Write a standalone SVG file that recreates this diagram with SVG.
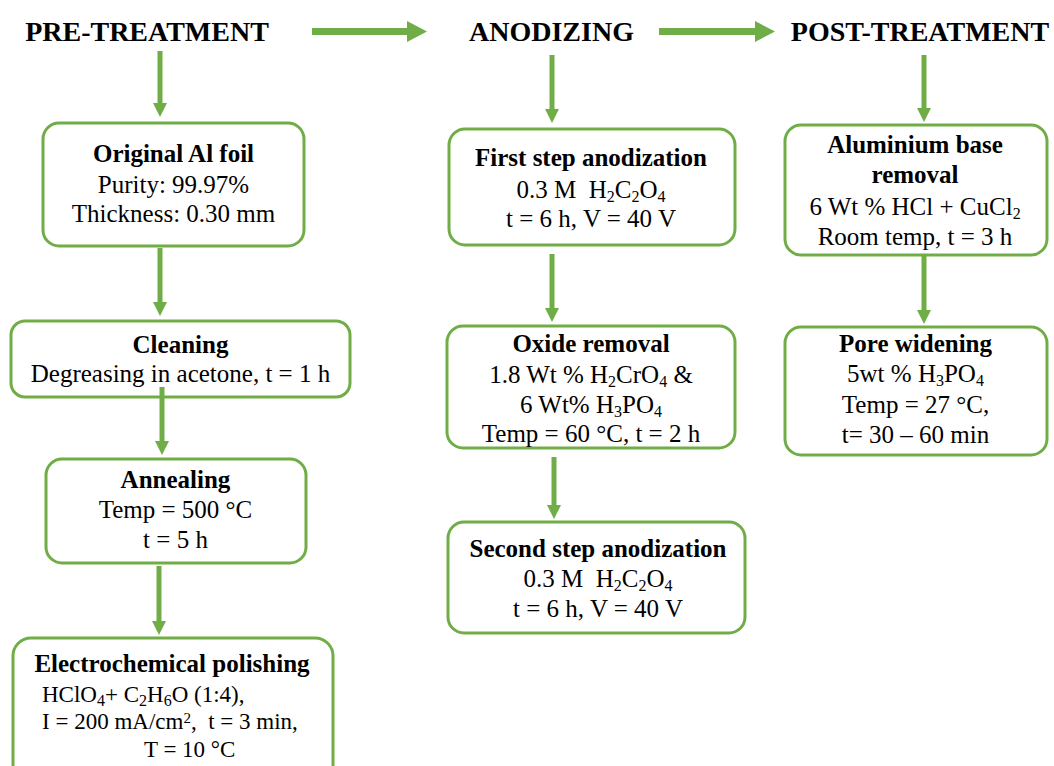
<svg xmlns="http://www.w3.org/2000/svg" width="1054" height="766" viewBox="0 0 1054 766">
<style>
.box{fill:#fff;stroke:#70AD47;stroke-width:3}
.t{font-family:"Liberation Serif","Times New Roman",serif;font-size:25px;fill:#000;text-anchor:middle}
.b{font-weight:bold}
.h{font-family:"Liberation Serif","Times New Roman",serif;font-size:28px;font-weight:bold;fill:#000;text-anchor:middle}
.s{font-size:16px;baseline-shift:-25%}
.p{font-size:15px;baseline-shift:40%}
.v{stroke:#70AD47;stroke-width:5;fill:none}
.hz{stroke:#70AD47;stroke-width:7;fill:none}
.st{text-anchor:start;font-size:23px}
</style>
<defs>
<marker id="av" markerUnits="userSpaceOnUse" markerWidth="14" markerHeight="14" refX="0" refY="7" orient="auto"><path d="M0,0 L14,7 L0,14 z" fill="#70AD47"/></marker>
<marker id="ah" markerUnits="userSpaceOnUse" markerWidth="20" markerHeight="21" refX="0" refY="10.5" orient="auto"><path d="M0,0 L20,10.5 L0,21 z" fill="#70AD47"/></marker>
</defs>
<rect width="1054" height="766" fill="#fff"/>
<g id="headers">
<text class="h" x="147" y="41">PRE-TREATMENT</text>
<text class="h" x="551.5" y="41">ANODIZING</text>
<text class="h" x="920" y="41">POST-TREATMENT</text>
</g>
<g id="connectors">
<line class="hz" x1="312" y1="31.5" x2="407" y2="31.5" marker-end="url(#ah)"/>
<line class="hz" x1="659" y1="31.5" x2="755" y2="31.5" marker-end="url(#ah)"/>
<line class="v" x1="160" y1="51" x2="160" y2="103" marker-end="url(#av)"/>
<line class="v" x1="160" y1="248" x2="160" y2="302" marker-end="url(#av)"/>
<line class="v" x1="159" y1="566" x2="159" y2="621" marker-end="url(#av)"/>
<line class="v" x1="552" y1="55" x2="552" y2="109" marker-end="url(#av)"/>
<line class="v" x1="552" y1="254" x2="552" y2="308" marker-end="url(#av)"/>
<line class="v" x1="554" y1="457" x2="554" y2="505" marker-end="url(#av)"/>
<line class="v" x1="924" y1="55" x2="924" y2="108" marker-end="url(#av)"/>
<line class="v" x1="924" y1="255" x2="924" y2="310" marker-end="url(#av)"/>
</g>
<g id="original-al-foil">
<rect class="box" x="43" y="123" width="261" height="123" rx="16"/>
<text class="t b" x="173.5" y="162">Original Al foil</text>
<text class="t" x="173.5" y="193">Purity: 99.97%</text>
<text class="t" x="173.5" y="222">Thickness: 0.30 mm</text>
</g>
<g id="cleaning">
<rect class="box" x="11" y="321" width="339" height="76" rx="14"/>
<text class="t b" x="180.5" y="353">Cleaning</text>
<text class="t" x="180.5" y="382">Degreasing in acetone, t = 1 h</text>
</g>
<g id="connector-cleaning-annealing">
<line class="v" x1="162" y1="387" x2="162" y2="441" marker-end="url(#av)"/>
</g>
<g id="annealing">
<rect class="box" x="46" y="459" width="260" height="104" rx="16"/>
<text class="t b" x="175.5" y="488">Annealing</text>
<text class="t" x="175.5" y="518">Temp = 500 °C</text>
<text class="t" x="175.5" y="548">t = 5 h</text>
</g>
<g id="electrochemical-polishing">
<rect class="box" x="13" y="638" width="320" height="150" rx="18"/>
<text class="t b" x="172" y="672">Electrochemical polishing</text>
<text class="t st" x="42" y="702">HClO<tspan class="s">4</tspan>+ C<tspan class="s">2</tspan>H<tspan class="s">6</tspan>O (1:4),</text>
<text class="t st" x="42" y="729">I = 200 mA/cm<tspan class="p">2</tspan>,&#160; t = 3 min,</text>
<text class="t st" x="144" y="757">T = 10 °C</text>
</g>
<g id="first-step-anodization">
<rect class="box" x="449" y="129" width="286" height="116" rx="16"/>
<text class="t b" x="591" y="166">First step anodization</text>
<text class="t" x="591" y="198">0.3 M&#160; H<tspan class="s">2</tspan>C<tspan class="s">2</tspan>O<tspan class="s">4</tspan></text>
<text class="t" x="591" y="227">t = 6 h, V = 40 V</text>
</g>
<g id="oxide-removal">
<rect class="box" x="447" y="326" width="288" height="122" rx="16"/>
<text class="t b" x="591" y="352">Oxide removal</text>
<text class="t" x="591" y="383">1.8 Wt % H<tspan class="s">2</tspan>CrO<tspan class="s">4</tspan> &amp;</text>
<text class="t" x="591" y="413">6 Wt% H<tspan class="s">3</tspan>PO<tspan class="s">4</tspan></text>
<text class="t" x="591" y="442">Temp = 60 °C, t = 2 h</text>
</g>
<g id="second-step-anodization">
<rect class="box" x="448" y="522" width="297" height="111" rx="16"/>
<text class="t b" x="598" y="557">Second step anodization</text>
<text class="t" x="598" y="587">0.3 M&#160; H<tspan class="s">2</tspan>C<tspan class="s">2</tspan>O<tspan class="s">4</tspan></text>
<text class="t" x="598" y="617">t = 6 h, V = 40 V</text>
</g>
<g id="aluminium-base-removal">
<rect class="box" x="785" y="125" width="262" height="130" rx="16"/>
<text class="t b" x="915" y="153">Aluminium base</text>
<text class="t b" x="915" y="183">removal</text>
<text class="t" x="915" y="215">6 Wt % HCl + CuCl<tspan class="s">2</tspan></text>
<text class="t" x="915" y="245">Room temp, t = 3 h</text>
</g>
<g id="pore-widening">
<rect class="box" x="785" y="327" width="262" height="128" rx="16"/>
<text class="t b" x="915.5" y="352">Pore widening</text>
<text class="t" x="915.5" y="382">5wt % H<tspan class="s">3</tspan>PO<tspan class="s">4</tspan></text>
<text class="t" x="915.5" y="413">Temp = 27 °C,</text>
<text class="t" x="915.5" y="443">t= 30 – 60 min</text>
</g>
</svg>
